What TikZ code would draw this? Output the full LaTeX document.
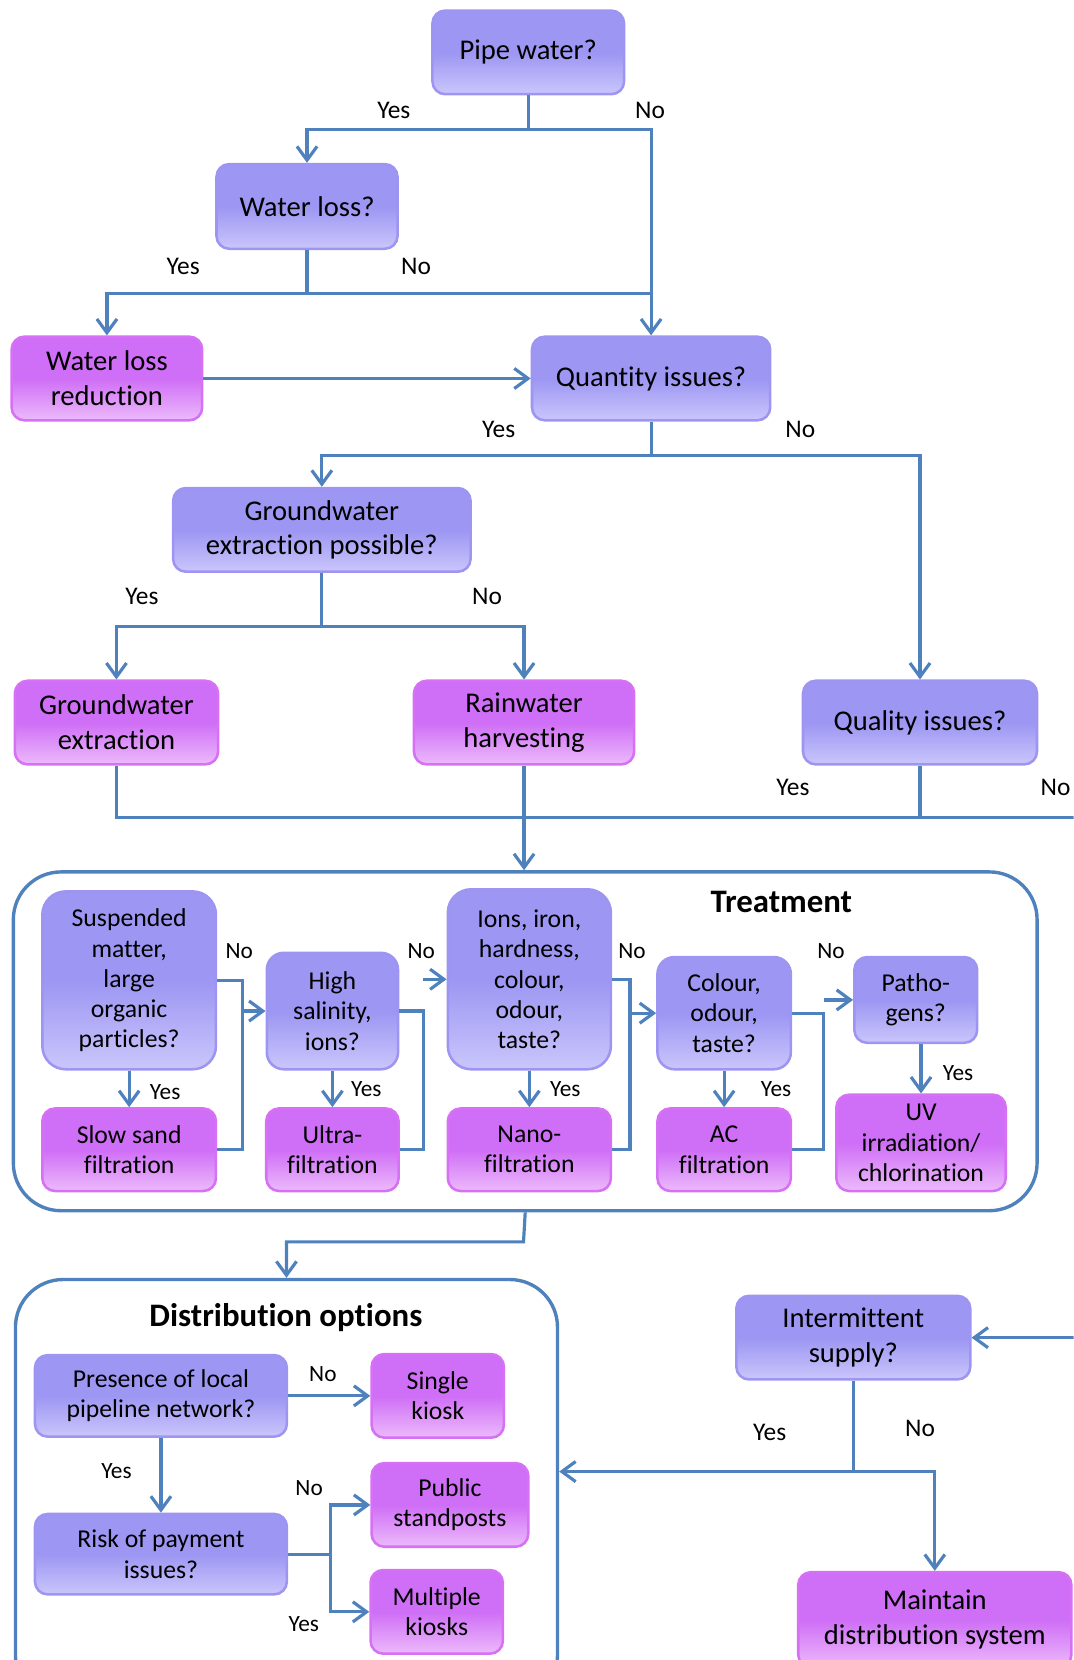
\documentclass[tikz,border=0pt]{standalone}
\usepackage{fontspec}
\setmainfont{Carlito}[Ligatures=NoCommon]
\usetikzlibrary{arrows.meta}
\definecolor{qa}{RGB}{157,150,243}
\definecolor{qb}{RGB}{202,198,251}
\definecolor{qborder}{RGB}{158,148,242}
\definecolor{ma}{RGB}{207,110,246}
\definecolor{mb}{RGB}{236,186,251}
\definecolor{mborder}{RGB}{214,112,244}
\definecolor{conncol}{RGB}{79,129,189}
\newcommand\FBig{\fontsize{27}{33}\selectfont}
\newcommand\FSm{\fontsize{24.3}{28.5}\selectfont}
\newcommand\FLbl{\fontsize{24}{28}\selectfont}
\newcommand\FLbls{\fontsize{22}{26}\selectfont}
\newcommand\FTitle{\fontsize{31}{36}\selectfont\bfseries}
\tikzset{
  basebox/.style={line width=2.4pt, align=center, inner sep=0pt, text=black},
  qbox/.style={basebox, draw=qborder, rounded corners=12pt, top color=qa, bottom color=qb, middle color=qa},
  mbox/.style={basebox, draw=mborder, rounded corners=12pt, top color=ma, bottom color=mb, middle color=ma},
  conn/.style={draw=conncol, line width=3pt},
  tip/.style={-{Straight Barb[length=13pt,width=19pt]}},
  frame/.style={draw=conncol, line width=3.2pt, rounded corners=45pt, inner sep=0pt},
  lbl/.style={font=\FLbl, inner sep=0pt, text=black},
  lbls/.style={font=\FLbls, inner sep=0pt, text=black},
  ttl/.style={font=\FTitle, inner sep=0pt, text=black}
}
\begin{document}
\begin{tikzpicture}[x=1pt,y=-1pt]
\useasboundingbox (0,0) rectangle (1014,1568);
\clip (0,0) rectangle (1014,1568);

% ---------- upper decision tree ----------
\node[qbox, font=\FBig, minimum width=181pt, minimum height=79pt] (pw) at (499,49.5) {Pipe water?};
\node[qbox, font=\FBig, minimum width=171pt, minimum height=80pt] (wl) at (290,195) {Water loss?};
\node[mbox, font=\FBig, minimum width=180pt, minimum height=79pt] (wlr) at (101,357.5) {Water loss\\reduction};
\node[qbox, font=\FBig, minimum width=225pt, minimum height=79pt] (qi) at (615,357.5) {Quantity issues?};
\node[qbox, font=\FBig, minimum width=281pt, minimum height=79pt] (gep) at (304,500.5) {Groundwater\\extraction possible?};
\node[mbox, font=\FBig, minimum width=192pt, minimum height=79pt] (ge) at (110,682.5) {Groundwater\\extraction};
\node[mbox, font=\FBig, minimum width=208pt, minimum height=79pt] (rh) at (495,682.5) {Rainwater\\harvesting};
\node[qbox, font=\FBig, minimum width=221pt, minimum height=79pt] (ql) at (869,682.5) {Quality issues?};

\coordinate (j1) at (499,122);
\coordinate (j2) at (290,277);
\coordinate (j2r) at (615,277);
\coordinate (j3) at (615,430);
\coordinate (j4) at (304,592);
\coordinate (j5) at (495,772);
\coordinate (j5q) at (869,772);
\coordinate (off1) at (1040,772);
\coordinate (off2) at (1040,1263.5);

\draw[conn] (pw.south) -- (j1);
\draw[conn,tip] (j1) -| (wl.north);
\draw[conn,tip] (j1) -| (qi.north);
\draw[conn] (wl.south) -- (j2);
\draw[conn,tip] (j2) -| (wlr.north);
\draw[conn] (j2) -- (j2r);
\draw[conn,tip] (wlr.east) -- (qi.west);
\draw[conn] (qi.south) -- (j3);
\draw[conn,tip] (j3) -| (gep.north);
\draw[conn,tip] (j3) -| (ql.north);
\draw[conn] (gep.south) -- (j4);
\draw[conn,tip] (j4) -| (ge.north);
\draw[conn,tip] (j4) -| (rh.north);
\draw[conn] (ge.south) |- (j5);
\draw[conn] (ql.south) |- (j5);

\node[lbl] (l1) at (372,104) {Yes};
\node[lbl] (l2) at (614,104) {No};
\node[lbl] (l3) at (173,252) {Yes};
\node[lbl] (l4) at (393,252) {No};
\node[lbl] (l5) at (471,406) {Yes};
\node[lbl] (l6) at (756,406) {No};
\node[lbl] (l7) at (134,563) {Yes};
\node[lbl] (l8) at (460,563) {No};
\node[lbl] (l9) at (749,744) {Yes};
\node[lbl] (l10) at (997,744) {No};

% ---------- treatment ----------
\node[frame, minimum width=967pt, minimum height=320pt, anchor=north west] (tr) at (11,822) {};
\draw[conn,tip] (rh.south) -- (rh.south |- tr.north);
\node[ttl] (ttr) at (738,852) {Treatment};

\node[qbox, font=\FSm, rounded corners=22pt, minimum width=164pt, minimum height=168pt] (sm) at (122,926) {Suspended\\matter,\\large\\organic\\particles?};
\node[mbox, font=\FSm, minimum width=164pt, minimum height=78pt] (ss) at (122,1086) {Slow sand\\filtration};
\node[qbox, font=\FSm, rounded corners=16pt, minimum width=124pt, minimum height=110pt] (hs) at (314,955) {High\\salinity,\\ions?};
\node[mbox, font=\FSm, minimum width=125pt, minimum height=78pt] (uf) at (314,1086) {Ultra-\\filtration};
\node[qbox, font=\FSm, rounded corners=22pt, minimum width=154pt, minimum height=170pt] (io) at (500,925) {Ions, iron,\\hardness,\\colour,\\odour,\\taste?};
\node[mbox, font=\FSm, minimum width=154pt, minimum height=78pt] (nf) at (500,1086) {Nano-\\filtration};
\node[qbox, font=\FSm, rounded corners=16pt, minimum width=126pt, minimum height=106pt] (co) at (684,957) {Colour,\\odour,\\taste?};
\node[mbox, font=\FSm, minimum width=126pt, minimum height=78pt] (ac) at (684,1086) {AC\\filtration};
\node[qbox, font=\FSm, minimum width=116pt, minimum height=81pt] (pa) at (865,944.5) {Patho-\\gens?};
\node[mbox, font=\FSm, minimum width=160pt, minimum height=91pt] (uv) at (870,1079.5) {UV\\irradiation/\\chlorination};

\coordinate (tx1) at (229,0);
\coordinate (tx2) at (400,0);
\coordinate (tx3) at (595,0);
\coordinate (tx4) at (778,0);

\draw[conn,tip] (sm.south) -- (ss.north);
\draw[conn,tip] (hs.south) -- (uf.north);
\draw[conn,tip] (io.south) -- (nf.north);
\draw[conn,tip] (co.south) -- (ac.north);
\draw[conn,tip] (uv.north |- pa.south) -- (uv.north);

\draw[conn] (sm.east) -| (tx1 |- ss.east) -- (ss.east);
\draw[conn,tip] (tx1 |- hs.west) -- (hs.west);
\draw[conn] (hs.east) -| (tx2 |- uf.east) -- (uf.east);
\draw[conn,tip] (tx2 |- io.west) -- (io.west);
\draw[conn] (io.east) -| (tx3 |- nf.east) -- (nf.east);
\draw[conn,tip] (tx3 |- co.west) -- (co.west);
\draw[conn] (co.east) -| (tx4 |- ac.east) -- (ac.east);
\draw[conn,tip] (tx4 |- pa.west) -- (pa.west);

\node[lbls] (n1) at (226,898) {No};
\node[lbls] (n2) at (398,898) {No};
\node[lbls] (n3) at (597,898) {No};
\node[lbls] (n4) at (785,898) {No};
\node[lbls] (y1) at (156,1032) {Yes};
\node[lbls] (y2) at (346,1029) {Yes};
\node[lbls] (y3) at (534,1029) {Yes};
\node[lbls] (y4) at (733,1029) {Yes};
\node[lbls] (y5) at (905,1014) {Yes};

% ---------- distribution ----------
\node[frame, minimum width=512pt, minimum height=400pt, anchor=north west] (db) at (13,1207) {};
\coordinate (k1) at (494.5,1173);
\draw[conn,tip] (tr.south) -- (k1) -| (db.north);
\node[ttl] (tdb) at (270,1245) {Distribution options};

\node[qbox, font=\FSm, minimum width=238pt, minimum height=77pt] (pr) at (152,1318.5) {Presence of local\\pipeline network?};
\node[mbox, font=\FSm, minimum width=125pt, minimum height=79pt] (sk) at (413.5,1318.5) {Single\\kiosk};
\node[qbox, font=\FSm, minimum width=238pt, minimum height=76pt] (rk) at (152,1468) {Risk of payment\\issues?};
\node[mbox, font=\FSm, minimum width=148pt, minimum height=79pt] (ps) at (425,1421.5) {Public\\standposts};
\node[mbox, font=\FSm, minimum width=125pt, minimum height=79pt] (mk) at (412.5,1522.5) {Multiple\\kiosks};

\coordinate (dx) at (312,0);
\draw[conn,tip] (pr.east) -- (sk.west);
\draw[conn,tip] (pr.south) -- (rk.north);
\draw[conn,tip] (rk.east) -| (dx |- ps.west) -- (ps.west);
\draw[conn,tip] (rk.east) -| (dx |- mk.west) -- (mk.west);

\node[lbls] (d1) at (305,1298) {No};
\node[lbls] (d2) at (110,1390) {Yes};
\node[lbls] (d3) at (292,1406) {No};
\node[lbls] (d4) at (287,1534) {Yes};

% ---------- intermittent supply ----------
\node[qbox, font=\FBig, minimum width=221pt, minimum height=79pt] (is) at (806,1263.5) {Intermittent\\supply?};
\node[mbox, font=\FBig, minimum width=258pt, minimum height=90pt] (md) at (883,1530) {Maintain\\distribution system};

\draw[conn,tip] (j5q) -- (off1) -- (off2) -- (is.east);
\coordinate (m1) at (806,1390);
\draw[conn] (is.south) -- (m1);
\draw[conn,tip] (m1) -- (m1 -| db.east);
\draw[conn,tip] (m1) -| (md.north);

\node[lbl] (i1) at (727,1353) {Yes};
\node[lbl] (i2) at (869,1349) {No};
\end{tikzpicture}
\end{document}
